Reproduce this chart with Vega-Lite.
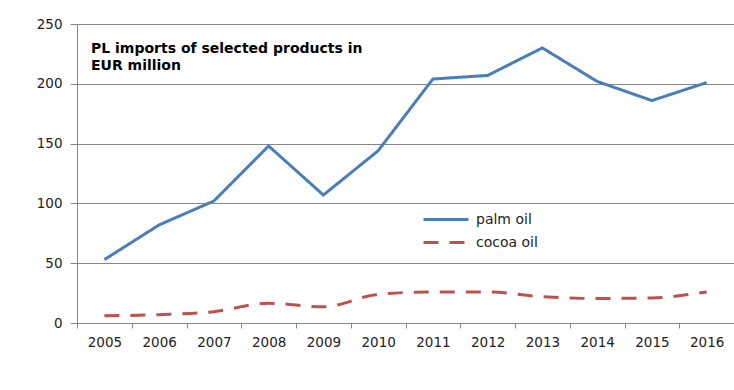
{
  "$schema": "https://vega.github.io/schema/vega-lite/v6.json",
  "width": 657,
  "height": 299,
  "autosize": {"type": "none"},
  "padding": {"left": 77, "top": 24, "right": 0, "bottom": 67},
  "background": "white",
  "title": {
    "text": ["PL imports of selected products  in", "EUR million"],
    "anchor": "start",
    "frame": "group",
    "baseline": "top",
    "offset": 0,
    "dx": 14,
    "dy": 56,
    "lineHeight": 17,
    "font": "DejaVu Sans",
    "fontSize": 14,
    "fontWeight": "bold",
    "color": "#000000"
  },
  "data": {
    "values": [
      {"year": "2005", "product": "palm oil", "value": 53},
      {"year": "2006", "product": "palm oil", "value": 82},
      {"year": "2007", "product": "palm oil", "value": 102},
      {"year": "2008", "product": "palm oil", "value": 148},
      {"year": "2009", "product": "palm oil", "value": 107},
      {"year": "2010", "product": "palm oil", "value": 144},
      {"year": "2011", "product": "palm oil", "value": 204},
      {"year": "2012", "product": "palm oil", "value": 207},
      {"year": "2013", "product": "palm oil", "value": 230},
      {"year": "2014", "product": "palm oil", "value": 202},
      {"year": "2015", "product": "palm oil", "value": 186},
      {"year": "2016", "product": "palm oil", "value": 201},
      {"year": "2005", "product": "cocoa oil", "value": 6},
      {"year": "2006", "product": "cocoa oil", "value": 7},
      {"year": "2007", "product": "cocoa oil", "value": 9.5},
      {"year": "2008", "product": "cocoa oil", "value": 16.5},
      {"year": "2009", "product": "cocoa oil", "value": 13.5},
      {"year": "2010", "product": "cocoa oil", "value": 24},
      {"year": "2011", "product": "cocoa oil", "value": 26},
      {"year": "2012", "product": "cocoa oil", "value": 26},
      {"year": "2013", "product": "cocoa oil", "value": 22},
      {"year": "2014", "product": "cocoa oil", "value": 20.5},
      {"year": "2015", "product": "cocoa oil", "value": 21},
      {"year": "2016", "product": "cocoa oil", "value": 26}
    ]
  },
  "encoding": {
    "x": {
      "field": "year",
      "type": "ordinal",
      "scale": {"type": "band", "paddingInner": 0, "paddingOuter": 0},
      "axis": {
        "title": null,
        "tickBand": "extent",
        "labelAngle": 0,
        "grid": false,
        "domainColor": "#868686",
        "tickColor": "#868686",
        "tickSize": 5,
        "labelPadding": 7,
        "labelFont": "DejaVu Sans",
        "labelFontSize": 13.5,
        "labelColor": "#222222"
      }
    },
    "y": {
      "field": "value",
      "type": "quantitative",
      "scale": {"domain": [0, 250], "nice": false},
      "axis": {
        "title": null,
        "values": [0, 50, 100, 150, 200, 250],
        "grid": true,
        "gridColor": "#868686",
        "gridOpacity": 1,
        "domainColor": "#868686",
        "tickColor": "#868686",
        "tickSize": 7,
        "labelPadding": 8,
        "labelFont": "DejaVu Sans",
        "labelFontSize": 13.5,
        "labelColor": "#222222"
      }
    },
    "color": {
      "field": "product",
      "type": "nominal",
      "scale": {"domain": ["palm oil", "cocoa oil"], "range": ["#4A7EBB", "#C0504D"]},
      "legend": {
        "title": null,
        "orient": "none",
        "legendX": 345,
        "legendY": 184,
        "symbolType": "stroke",
        "symbolSize": 2025,
        "symbolStrokeWidth": 3,
        "clipHeight": 23,
        "labelFont": "DejaVu Sans",
        "labelFontSize": 14,
        "labelColor": "#222222",
        "labelOffset": 6,
        "rowPadding": 0
      }
    },
    "strokeDash": {
      "field": "product",
      "type": "nominal",
      "scale": {"domain": ["palm oil", "cocoa oil"], "range": [[1, 0], [15, 11]]},
      "legend": {
        "title": null,
        "orient": "none",
        "legendX": 345,
        "legendY": 184,
        "symbolType": "stroke",
        "symbolSize": 2025,
        "symbolStrokeWidth": 3,
        "clipHeight": 23,
        "labelFont": "DejaVu Sans",
        "labelFontSize": 14,
        "labelColor": "#222222",
        "labelOffset": 6,
        "rowPadding": 0
      }
    }
  },
  "layer": [
    {
      "transform": [{"filter": "datum.product === 'palm oil'"}],
      "mark": {"type": "line", "strokeWidth": 3}
    },
    {
      "transform": [{"filter": "datum.product === 'cocoa oil'"}],
      "mark": {"type": "line", "strokeWidth": 3, "interpolate": "monotone"}
    }
  ],
  "config": {
    "view": {"stroke": null},
    "axis": {"domainWidth": 1, "tickWidth": 1, "gridWidth": 1}
  }
}
